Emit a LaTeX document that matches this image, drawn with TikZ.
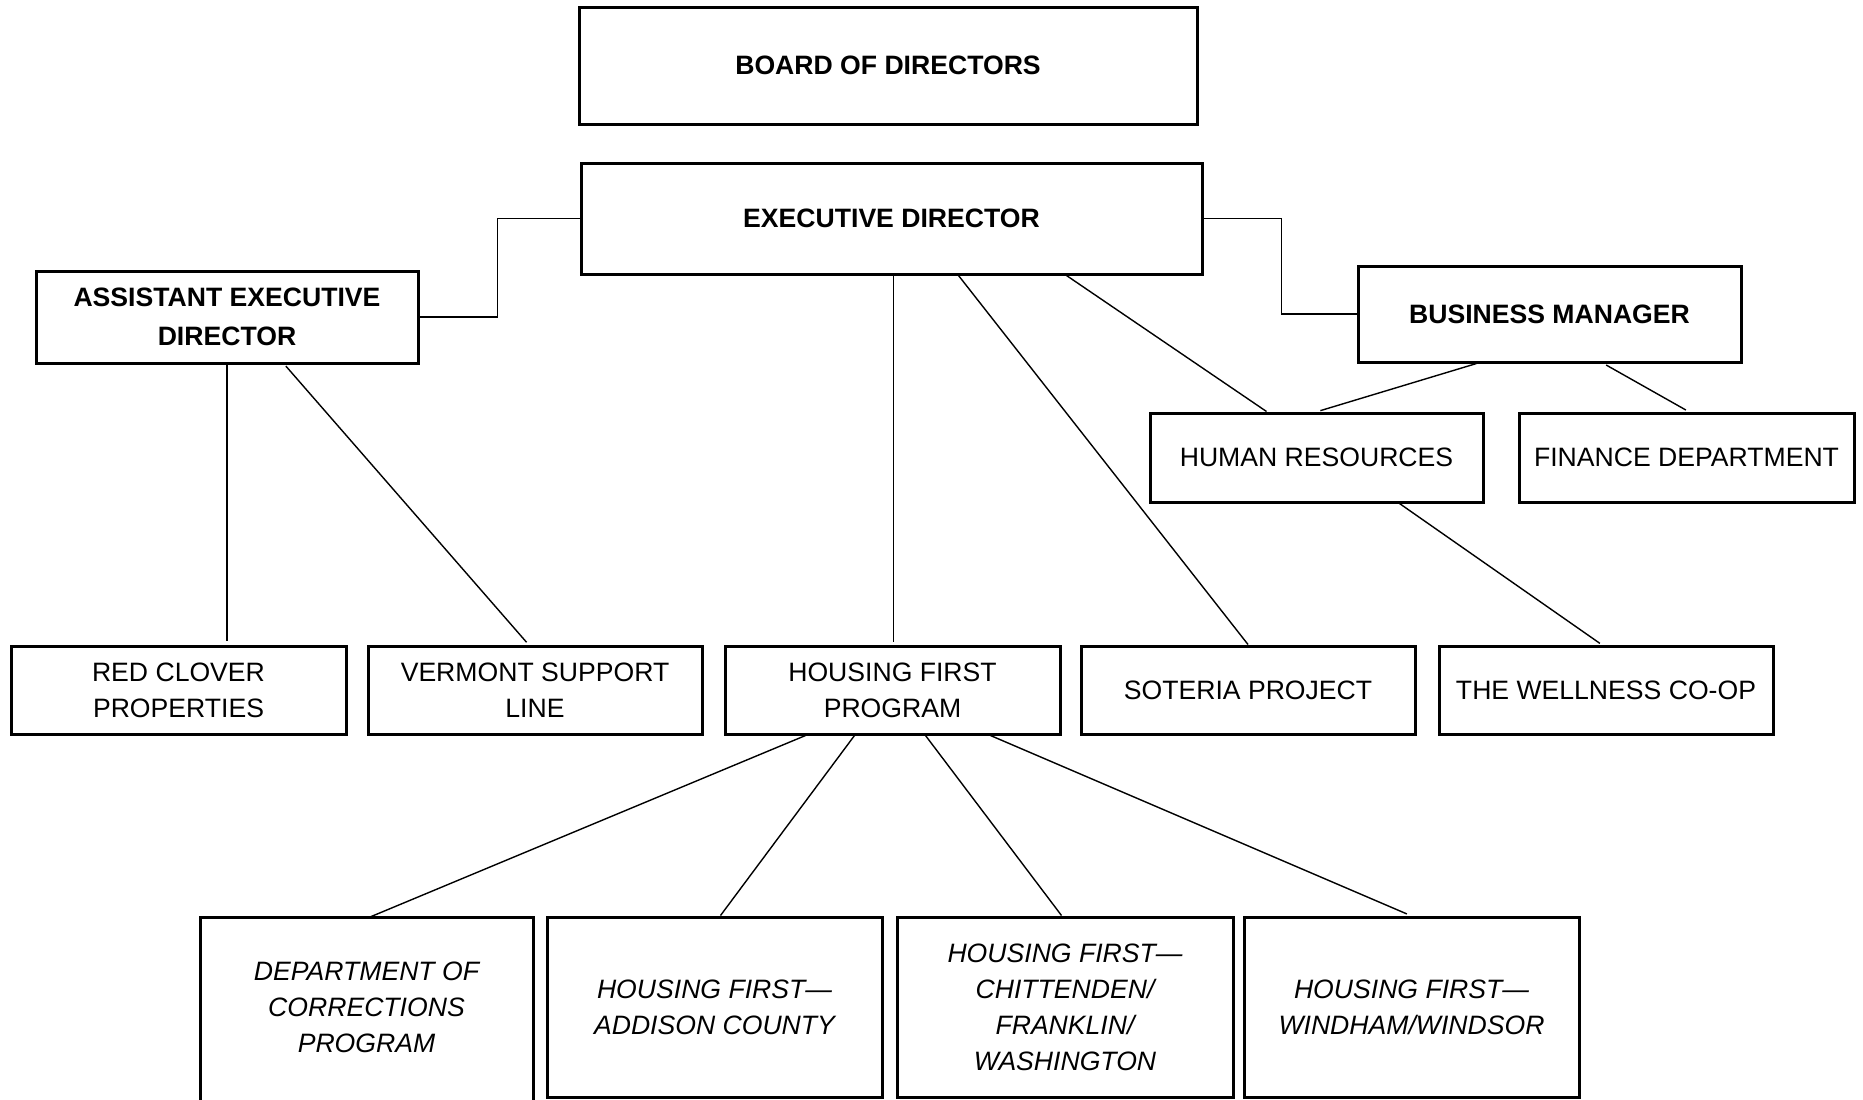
\documentclass[tikz,border=0pt]{standalone}
\usepackage{fontspec}
\setmainfont{Liberation Sans}
\begin{document}
\begin{tikzpicture}[x=0.5pt,y=-0.5pt,
  box/.style={draw, line width=1.5pt, inner sep=0pt, align=center, font=\fontsize{13.3pt}{18pt}\selectfont},
  boldbox/.style={box, font=\fontsize{13.3pt}{19.5pt}\selectfont\bfseries},
  itbox/.style={box, font=\fontsize{13.3pt}{18pt}\selectfont\itshape},
  link/.style={line width=0.7pt},
  openline/.style={line width=1.5pt}]
\fill[white] (0,0) rectangle (1863,1099);
\useasboundingbox (0,0) rectangle (1863,1099);

% top levels
\node[boldbox, minimum width=309pt, minimum height=58.5pt] (board) at (888,65.5) {BOARD OF DIRECTORS};
\node[boldbox, minimum width=310.5pt, minimum height=55.5pt] (exec) at (891.5,218.5) {EXECUTIVE DIRECTOR};
\node[boldbox, minimum width=191pt, minimum height=46pt] (asst) at (227,317) {ASSISTANT EXECUTIVE\\DIRECTOR};
\node[boldbox, minimum width=191.5pt, minimum height=48pt] (bm) at (1549.5,314) {BUSINESS MANAGER};
\node[box, minimum width=166.5pt, minimum height=44.5pt] (hr) at (1316.5,457.5) {HUMAN RESOURCES};
\node[box, minimum width=167.5pt, minimum height=44.5pt] (fin) at (1686.5,457.5) {FINANCE DEPARTMENT};

% row 3
\node[box, minimum width=167.5pt, minimum height=44pt] (red) at (178.5,690) {RED CLOVER\\PROPERTIES};
\node[box, minimum width=167pt, minimum height=44pt] (vsl) at (535,690) {VERMONT SUPPORT\\LINE};
\node[box, minimum width=167.5pt, minimum height=44pt] (hfp) at (892.5,690) {HOUSING FIRST\\PROGRAM};
\node[box, minimum width=167pt, minimum height=44pt] (sot) at (1248,690) {SOTERIA PROJECT};
\node[box, minimum width=167pt, minimum height=44pt] (well) at (1606,690) {THE WELLNESS CO-OP};

% row 4
\node[itbox, draw=none, outer sep=0pt, minimum width=166.5pt, minimum height=90pt] (doc) at (366.5,1007) {DEPARTMENT OF\\CORRECTIONS\\PROGRAM};
\draw[openline] ([yshift=-10pt]doc.south west) -- (doc.north west) -- (doc.north east) -- ([yshift=-10pt]doc.south east);
\node[itbox, minimum width=167.5pt, minimum height=90pt] (add) at (714.5,1007) {HOUSING FIRST—\\ADDISON COUNTY};
\node[itbox, minimum width=168pt, minimum height=90pt] (chi) at (1065,1007) {HOUSING FIRST—\\CHITTENDEN/\\FRANKLIN/\\WASHINGTON};
\node[itbox, minimum width=167.5pt, minimum height=90pt] (win) at (1411.5,1007) {HOUSING FIRST—\\WINDHAM/WINDSOR};

% connectors
\draw[link] (exec.west) -- ++(-82,0) |- (asst.east);
\draw[link] (exec.east) -- ++(78,0) |- (bm.west);
\draw[link, shorten >=2pt] (asst.south) -- (asst.south |- red.north);
\draw[link, shorten <=1pt, shorten >=1.5pt] ([xshift=125pt]asst.south west) -- ([xshift=81pt]vsl.north west);
\draw[link, shorten >=1.5pt] ([xshift=157pt]exec.south west) -- ([xshift=85pt]hfp.north west);
\draw[link] ([xshift=189.5pt]exec.south west) -- (sot.north);
\draw[link] ([xshift=243.5pt]exec.south west) -- ([xshift=59pt]hr.north west);
\draw[link, shorten >=1.5pt] ([xshift=60pt]bm.south west) -- ([xshift=84.5pt]hr.north west);
\draw[link, shorten <=1.5pt, shorten >=1.5pt] ([xshift=123.5pt]bm.south west) -- ([xshift=85.5pt]fin.north west);
\draw[link, shorten >=1pt] ([xshift=125.5pt]hr.south west) -- ([xshift=82pt]well.north west);
\draw[link] ([xshift=41pt]hfp.south west) -- ([xshift=85pt]doc.north west);
\draw[link] ([xshift=65.5pt]hfp.south west) -- ([xshift=87.5pt]add.north west);
\draw[link] ([xshift=101pt]hfp.south west) -- ([xshift=83pt]chi.north west);
\draw[link, shorten >=2pt] ([xshift=133.5pt]hfp.south west) -- ([xshift=84pt]win.north west);
\end{tikzpicture}
\end{document}
